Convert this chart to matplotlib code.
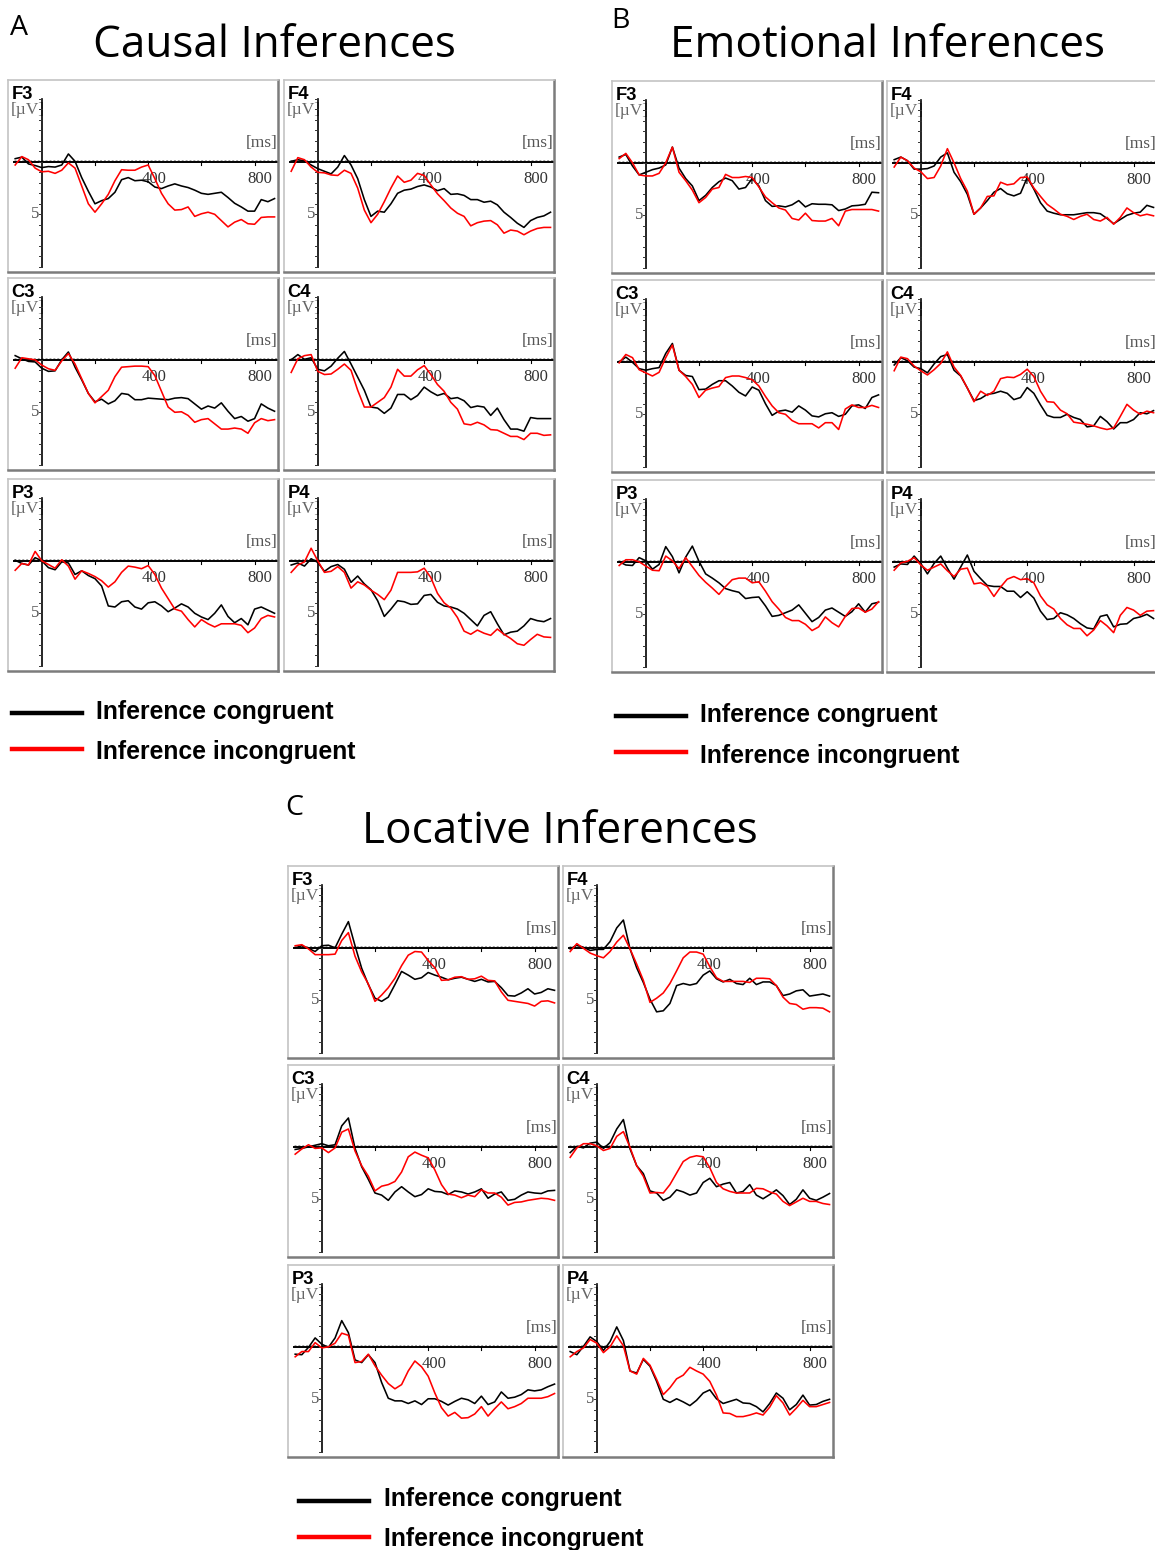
import matplotlib
matplotlib.use('Agg')
import matplotlib.pyplot as plt

# sample times (ms) shared by every waveform
TIME_MS = list(range(-100, 900, 25))

# ---- Causal inferences (uV) ----
causal_f3_con = [-0.3, -0.45, 0.2, 0.35, 0.55, 0.45, 0.5, 0.3, -0.75, -0.05,
                 1.5, 2.8, 4.0, 3.7, 3.5, 2.9, 1.7, 1.5, 1.8, 1.75,
                 1.9, 2.4, 2.55, 2.3, 2.1, 2.3, 2.45, 2.7, 3.0, 3.1,
                 3.0, 2.9, 3.4, 3.95, 4.3, 4.7, 4.7, 3.6, 3.8, 3.5]
causal_f3_inc = [0.3, -0.5, -0.2, 0.6, 0.95, 0.9, 1.1, 0.8, 0.1, 0.6,
                 2.3, 4.0, 4.8, 4.0, 3.1, 1.8, 0.75, 0.8, 0.8, 0.5,
                 0.3, 1.6, 3.0, 4.0, 4.6, 4.55, 4.3, 5.2, 4.95, 4.8,
                 5.0, 5.6, 6.2, 5.75, 5.5, 5.9, 5.95, 5.3, 5.25, 5.25]
causal_f4_con = [-0.05, -0.2, -0.1, 0.3, 0.65, 0.9, 1.15, 0.5, -0.6, 0.3,
                 1.6, 3.6, 5.2, 4.7, 4.8, 4.0, 3.0, 2.7, 2.6, 2.35,
                 2.2, 2.4, 2.75, 2.55, 3.1, 3.05, 3.2, 3.6, 3.6, 3.85,
                 3.75, 4.1, 4.8, 5.3, 5.85, 6.25, 5.6, 5.3, 5.15, 4.8]
causal_f4_inc = [0.9, -0.4, -0.2, 0.5, 1.0, 1.05, 1.25, 1.3, 0.8, 1.1,
                 2.5, 4.6, 5.8, 5.0, 3.8, 2.5, 1.35, 1.95, 1.75, 1.1,
                 1.3, 2.2, 3.05, 3.7, 4.4, 4.9, 5.2, 6.1, 5.8, 5.65,
                 5.6, 6.0, 6.8, 6.5, 6.6, 6.95, 6.6, 6.35, 6.25, 6.25]
causal_c3_con = [-0.4, -0.1, 0.15, 0.2, 0.8, 1.1, 1.05, 0.0, -0.75, 0.7,
                 1.9, 3.2, 4.0, 3.75, 4.2, 3.9, 3.2, 3.3, 3.8, 3.8,
                 3.65, 3.7, 3.75, 3.8, 3.65, 3.6, 3.7, 4.2, 4.7, 4.4,
                 4.6, 4.1, 4.9, 5.6, 5.4, 5.85, 5.6, 4.2, 4.6, 4.9]
causal_c3_inc = [0.8, -0.2, -0.1, 0.0, 0.5, 0.85, 1.0, 0.1, -0.6, 0.4,
                 1.8, 3.2, 4.1, 3.5, 2.9, 1.6, 0.7, 0.65, 0.6, 0.6,
                 0.65, 1.5, 3.0, 4.5, 5.0, 4.95, 5.3, 5.95, 5.7, 5.6,
                 6.1, 6.6, 6.6, 6.5, 6.6, 7.0, 6.0, 5.6, 5.8, 5.7]
causal_c4_con = [0.0, -0.5, -0.05, -0.2, 0.9, 1.05, 0.6, -0.15, -0.8, 0.4,
                 1.65, 2.9, 4.5, 4.6, 5.1, 4.6, 3.3, 3.3, 3.8, 3.4,
                 2.6, 3.05, 3.4, 3.2, 3.7, 3.6, 3.9, 4.55, 4.4, 4.5,
                 5.3, 4.6, 5.7, 6.6, 6.6, 6.8, 5.5, 5.6, 5.6, 5.6]
causal_c4_inc = [1.2, -0.1, -0.4, -0.5, 1.1, 1.4, 1.35, 0.9, 0.4, 1.0,
                 2.9, 4.5, 4.5, 4.05, 3.6, 2.6, 0.9, 1.55, 1.55, 0.95,
                 0.55, 1.4, 2.35, 3.0, 4.05, 4.7, 6.1, 6.2, 5.95, 6.2,
                 6.65, 6.7, 7.0, 7.3, 7.3, 7.6, 7.0, 7.0, 7.2, 7.15]
causal_p3_con = [-0.05, 0.25, 0.4, -0.3, 0.0, 0.65, 0.85, 0.1, 0.2, 1.3,
                 0.95, 1.4, 1.7, 2.4, 4.3, 4.4, 3.9, 3.8, 4.4, 4.6,
                 4.0, 3.9, 4.3, 4.85, 4.5, 4.1, 4.4, 5.0, 5.35, 5.6,
                 5.0, 4.2, 5.3, 5.9, 5.5, 6.1, 4.6, 4.4, 4.7, 5.0]
causal_p3_inc = [0.9, 0.25, 0.4, -0.9, 0.0, 0.35, 0.7, -0.1, 0.5, 1.75,
                 0.95, 1.2, 1.5, 1.9, 2.5, 2.0, 1.1, 0.5, 0.6, 0.75,
                 0.45, 1.3, 2.6, 3.6, 4.6, 4.8, 5.6, 6.3, 5.6, 6.0,
                 6.3, 6.0, 6.0, 6.0, 6.15, 6.85, 6.4, 5.5, 5.2, 5.35]
causal_p4_con = [0.4, 0.2, 0.5, -0.2, 0.15, 1.0, 0.55, 0.35, 0.8, 2.05,
                 1.45, 2.2, 2.75, 3.8, 5.3, 4.6, 3.8, 3.9, 4.15, 4.1,
                 3.3, 3.2, 3.95, 4.3, 4.4, 4.6, 5.0, 5.6, 6.2, 5.2,
                 4.85, 6.0, 7.05, 6.8, 6.7, 6.2, 5.5, 5.7, 5.8, 5.5]
causal_p4_inc = [1.1, 0.4, 0.1, -1.2, 0.0, 1.1, 1.0, 0.55, 1.1, 2.6,
                 2.0, 2.3, 2.8, 3.2, 3.7, 2.8, 1.1, 1.1, 1.1, 1.05,
                 0.7, 1.6, 3.1, 4.0, 4.5, 5.4, 6.7, 7.0, 6.6, 6.9,
                 7.1, 6.5, 7.0, 7.4, 7.9, 8.05, 7.5, 7.0, 7.25, 7.3]

# ---- Emotional inferences (uV) ----
emo_f3_con = [-0.55, -0.8, 0.3, 1.15, 0.9, 0.65, 0.5, 0.2, -1.5, 0.5,
              1.5, 2.2, 3.6, 3.1, 2.35, 1.8, 1.45, 1.7, 2.5, 2.35,
              1.5, 2.2, 3.6, 4.15, 4.1, 4.2, 4.0, 3.6, 4.2, 3.9,
              3.95, 3.95, 4.0, 4.55, 4.4, 4.1, 4.05, 3.95, 2.8, 2.85]
emo_f3_inc = [-0.4, -0.9, 0.0, 1.15, 1.25, 1.25, 1.0, 0.0, -1.5, 0.9,
              1.7, 2.6, 3.8, 3.3, 2.5, 2.35, 1.1, 1.4, 1.4, 1.3,
              1.4, 2.3, 3.25, 3.8, 4.3, 4.5, 5.3, 5.45, 4.8, 5.5,
              5.55, 5.55, 5.3, 6.0, 4.6, 4.45, 4.45, 4.45, 4.45, 4.6]
emo_f4_con = [-0.3, -0.55, -0.2, 0.6, 0.6, 0.55, 0.3, -0.55, -0.95, 0.9,
              1.8, 3.0, 4.9, 4.3, 3.6, 2.8, 2.45, 2.95, 3.15, 2.9,
              1.4, 2.5, 3.8, 4.6, 4.8, 4.95, 4.95, 4.95, 4.85, 4.75,
              4.75, 4.85, 5.3, 5.8, 5.4, 5.0, 4.8, 4.7, 4.05, 4.25]
emo_f4_inc = [0.4, -0.55, -0.2, 0.5, 0.85, 1.5, 1.4, 0.3, -1.35, 0.0,
              1.5, 2.7, 4.9, 4.3, 3.2, 3.15, 1.85, 2.1, 2.0, 1.4,
              1.35, 2.4, 3.2, 3.95, 4.4, 4.9, 5.1, 5.4, 5.1, 4.9,
              5.4, 5.55, 5.2, 5.85, 5.2, 4.3, 4.75, 5.05, 4.9, 5.05]
emo_c3_con = [0.0, -0.45, 0.05, 0.65, 0.8, 0.65, 0.55, -0.8, -1.75, 0.8,
              1.3, 1.4, 2.65, 2.6, 2.15, 1.8, 1.8, 2.3, 2.9, 3.25,
              2.4, 2.7, 4.0, 5.1, 4.7, 4.6, 4.8, 4.2, 4.6, 5.15,
              5.25, 4.95, 4.85, 5.2, 5.0, 4.2, 4.1, 4.45, 3.4, 3.15]
emo_c3_inc = [0.1, -0.7, -0.4, 0.75, 1.05, 1.35, 1.0, -0.4, -1.6, 0.8,
              1.4, 2.15, 3.4, 2.7, 2.5, 2.35, 1.5, 1.35, 1.35, 1.5,
              1.7, 2.3, 3.3, 4.2, 4.85, 5.0, 5.6, 5.9, 5.9, 5.9,
              6.3, 5.8, 5.8, 6.45, 4.5, 4.1, 4.35, 4.35, 4.15, 4.35]
emo_c4_con = [0.3, -0.4, -0.1, 0.5, 0.65, 1.05, 0.2, -0.5, -0.7, 0.8,
              1.35, 2.5, 3.7, 3.5, 3.1, 3.0, 2.8, 3.0, 3.6, 3.4,
              2.45, 3.0, 4.1, 5.1, 5.3, 5.3, 5.0, 5.3, 5.5, 6.2,
              6.1, 5.2, 5.7, 6.4, 5.8, 5.8, 5.5, 4.85, 4.95, 4.65]
emo_c4_inc = [0.85, -0.45, -0.3, 0.4, 0.85, 1.25, 0.75, 0.15, -0.95, 0.5,
              1.3, 2.5, 3.8, 2.8, 3.2, 2.8, 1.6, 1.45, 1.5, 1.2,
              0.7, 1.4, 2.8, 3.8, 3.85, 4.6, 4.95, 5.75, 5.85, 5.95,
              6.1, 6.3, 6.45, 6.3, 5.2, 4.05, 4.6, 5.0, 4.7, 4.85]
emo_p3_con = [0.0, 0.3, 0.35, -0.4, -0.1, 0.7, 0.25, -1.45, -0.5, 1.05,
              -0.45, -1.5, -0.05, 1.15, 1.55, 2.0, 2.55, 2.75, 2.9, 3.5,
              3.4, 3.35, 4.2, 5.2, 5.1, 4.85, 4.6, 4.1, 4.9, 5.7,
              5.3, 4.6, 4.4, 4.8, 5.2, 4.75, 4.0, 4.8, 4.0, 3.85]
emo_p3_inc = [0.35, -0.2, -0.2, 0.0, 0.4, 0.8, 0.85, -0.55, -0.1, 0.65,
              -0.4, 0.45, 1.3, 1.95, 2.5, 3.1, 2.35, 1.7, 1.55, 1.55,
              2.0, 1.9, 2.8, 3.8, 4.5, 5.3, 5.6, 5.6, 5.95, 6.55,
              6.2, 5.25, 5.8, 6.2, 5.2, 4.45, 4.4, 4.8, 4.5, 3.8]
emo_p4_con = [0.5, 0.2, 0.25, -0.55, 0.15, 1.15, 0.15, -0.55, 0.6, 1.65,
              0.5, -0.65, 0.9, 1.6, 2.25, 2.35, 2.35, 2.8, 2.8, 3.4,
              2.85, 3.45, 4.7, 5.5, 5.4, 4.85, 5.05, 5.4, 5.9, 6.3,
              6.4, 5.2, 5.05, 6.2, 5.95, 5.9, 5.4, 5.25, 5.0, 5.4]
emo_p4_inc = [0.8, 0.1, -0.05, -0.4, 0.3, 0.8, 0.5, 0.2, 0.85, 1.4,
              0.7, 0.6, 2.1, 2.0, 2.35, 3.3, 2.4, 1.65, 1.4, 1.7,
              1.6, 2.0, 3.25, 4.1, 4.5, 5.4, 6.0, 6.35, 6.35, 7.05,
              6.5, 5.6, 6.1, 6.75, 5.1, 4.35, 4.6, 5.1, 4.7, 4.65]

# ---- Locative inferences (uV) ----
loc_f3_con = [0.0, -0.2, 0.05, 0.35, -0.2, -0.25, 0.0, -1.3, -2.5, -0.2,
              1.95, 3.5, 4.8, 5.1, 4.7, 3.5, 2.25, 2.6, 3.0, 2.85,
              2.35, 2.6, 2.8, 3.05, 2.9, 2.8, 3.0, 3.2, 3.0, 3.25,
              3.2, 3.8, 4.55, 4.6, 4.3, 3.9, 4.4, 4.25, 3.9, 4.05]
loc_f3_inc = [-0.2, -0.3, 0.1, 0.65, 0.65, 0.65, 0.6, -0.7, -1.45, 0.8,
              2.3, 3.45, 5.1, 4.5, 3.8, 2.9, 1.7, 0.7, 0.35, 0.4,
              1.2, 1.9, 3.1, 3.05, 2.8, 2.75, 3.0, 2.95, 2.7, 3.1,
              3.15, 4.2, 5.0, 5.1, 5.2, 5.3, 5.55, 5.1, 5.05, 5.25]
loc_f4_con = [0.1, -0.25, -0.05, 0.25, 0.15, 0.15, -0.6, -1.9, -2.65, 0.1,
              1.9, 3.3, 4.9, 6.1, 6.0, 5.3, 3.6, 3.4, 3.55, 3.4,
              2.6, 2.2, 2.95, 3.25, 3.0, 3.4, 3.5, 2.9, 3.5, 3.25,
              3.25, 3.6, 4.55, 4.4, 4.1, 4.0, 4.6, 4.5, 4.4, 4.6]
loc_f4_inc = [0.35, -0.4, 0.05, 0.5, 0.75, 0.95, 0.35, -0.55, -1.2, 0.1,
              1.55, 3.1, 5.2, 4.8, 4.3, 3.4, 2.2, 0.95, 0.4, 0.4,
              0.6, 1.8, 2.85, 3.2, 3.2, 3.2, 3.2, 3.3, 2.9, 2.9,
              2.95, 3.6, 4.7, 5.3, 5.4, 5.85, 5.7, 5.7, 5.75, 6.1]
loc_c3_con = [0.25, 0.15, 0.0, -0.15, -0.3, -0.1, -0.2, -2.0, -2.75, 0.15,
              1.9, 3.1, 4.4, 4.6, 5.1, 4.3, 3.8, 4.3, 4.75, 4.55,
              4.0, 4.25, 4.3, 4.55, 4.2, 4.3, 4.5, 4.3, 4.0, 4.9,
              4.5, 4.3, 5.1, 5.0, 4.6, 4.3, 4.4, 4.45, 4.2, 4.15]
loc_c3_inc = [0.7, 0.2, -0.2, 0.15, 0.1, 0.55, 0.1, -1.4, -1.7, 0.4,
              1.8, 2.8, 4.2, 3.75, 3.6, 3.3, 2.4, 0.95, 0.5, 0.8,
              1.05, 2.2, 3.6, 4.5, 4.6, 4.85, 4.6, 4.75, 4.1, 4.4,
              4.4, 4.8, 5.55, 5.3, 5.25, 5.1, 5.0, 4.9, 4.95, 5.1]
loc_c4_con = [0.55, -0.05, 0.1, -0.35, -0.45, 0.15, -0.4, -1.7, -2.6, 0.2,
              1.8, 2.55, 4.2, 4.4, 5.1, 4.8, 4.1, 4.3, 4.6, 4.4,
              3.4, 3.0, 3.8, 3.55, 3.4, 4.4, 4.25, 3.6, 4.6, 4.95,
              4.55, 4.1, 4.65, 5.5, 5.0, 4.1, 4.9, 5.1, 4.8, 4.45]
loc_c4_inc = [1.0, 0.1, -0.3, -0.3, -0.1, 0.35, 0.15, -1.0, -1.45, 0.05,
              1.8, 2.8, 4.4, 4.35, 4.4, 3.6, 2.5, 1.4, 1.0, 0.85,
              0.95, 2.0, 3.4, 4.0, 4.25, 4.4, 4.4, 4.4, 3.95, 4.0,
              4.3, 4.5, 5.2, 5.6, 5.25, 4.9, 5.2, 5.2, 5.4, 5.5]
loc_p3_con = [0.7, 0.75, 0.05, -0.85, -0.25, 0.05, -0.85, -2.5, -1.35, 1.25,
              1.5, 0.75, 1.5, 3.4, 4.9, 5.15, 5.15, 5.4, 5.15, 5.5,
              4.95, 4.95, 5.2, 5.55, 5.2, 4.9, 5.05, 5.4, 4.7, 5.5,
              5.25, 4.3, 4.9, 4.8, 4.55, 4.1, 4.2, 4.1, 3.8, 3.55]
loc_p3_inc = [0.95, 0.45, 0.45, -0.4, 0.1, 0.0, -0.35, -1.3, -1.1, 1.5,
              1.4, 0.7, 1.8, 2.7, 3.5, 4.0, 3.6, 2.3, 1.35, 1.9,
              2.8, 4.4, 5.8, 6.6, 6.25, 6.8, 6.75, 6.4, 5.7, 6.6,
              5.9, 5.25, 5.9, 5.7, 5.4, 4.9, 4.9, 4.9, 4.75, 4.45]
loc_p4_con = [0.45, 0.75, -0.05, -0.95, -0.5, 0.35, -0.5, -1.9, -0.6, 2.3,
              2.5, 1.2, 1.85, 3.3, 5.0, 5.3, 4.95, 5.25, 5.6, 5.1,
              4.4, 4.1, 4.95, 5.4, 5.2, 5.0, 5.35, 5.4, 5.7, 6.2,
              5.4, 4.4, 4.9, 6.0, 5.5, 4.6, 5.55, 5.5, 5.2, 5.0]
loc_p4_inc = [0.95, 0.45, 0.1, -0.7, -0.35, 0.55, 0.0, -1.05, -0.1, 2.3,
              2.6, 1.1, 1.75, 3.1, 4.55, 3.9, 3.05, 2.7, 1.95, 2.3,
              2.6, 3.3, 4.6, 6.3, 6.35, 6.65, 6.65, 6.5, 6.3, 6.5,
              5.75, 4.65, 5.35, 6.5, 5.85, 5.1, 5.7, 5.7, 5.5, 5.3]

CHANNELS = ['F3', 'F4', 'C3', 'C4', 'P3', 'P4']
LEGEND_LABELS = ['Inference congruent', 'Inference incongruent']

FIG_W, FIG_H = 1155, 1550
BOX_W, BOX_H = 270, 192
XLIM = (-127, 888)
YLIM = (10.5, -7.8)   # negative up

SERIF = 'Liberation Serif'
SANS = 'Liberation Sans'
TITLE_FONT = 'Open Sans'


def add_panel(fig, left, top, name, con, inc):
    ax = fig.add_axes([left / FIG_W, 1 - (top + BOX_H) / FIG_H, BOX_W / FIG_W, BOX_H / FIG_H])
    ax.set_xlim(*XLIM)
    ax.set_ylim(*YLIM)
    ax.set_xticks([])
    ax.set_yticks([])
    for side in ('top', 'left'):
        ax.spines[side].set_color('#c4c4c4')
        ax.spines[side].set_linewidth(1.2)
    for side in ('right', 'bottom'):
        ax.spines[side].set_color('#7c7c7c')
        ax.spines[side].set_linewidth(1.8)

    # axes drawn inside the box
    ax.plot([-104, XLIM[1]], [-0.13, -0.13], color='#a0a0a0', lw=0.7, dashes=(2, 2), zorder=1)
    ax.plot([-104, XLIM[1]], [0, 0], color='black', lw=1.4, zorder=2)
    for t in (200, 400, 600, 800):
        ax.plot([t, t], [0, 0.3], color='black', lw=0.8, zorder=2)
    ax.plot([0, 0], [-6, 10], color='black', lw=1.2, zorder=2)
    for v in range(-6, 11):
        ax.plot([-9, 0], [v, v], color='#333333', lw=0.7, zorder=2)

    for t in (400, 800):
        ax.text(t + 21, 1.6, str(t), fontsize=12, family=SERIF, color='#333333',
                ha='center', va='center', zorder=1)
    ax.text(-11, 5, '5', fontsize=12, family=SERIF, color='#555555', ha='right', va='center', zorder=1)
    ax.text(886, -1.8, '[ms]', fontsize=12.5, family=SERIF, color='#555555', ha='right', va='center', zorder=1)
    ax.text(-115, -4.95, '[µV]', fontsize=12.5, family=SERIF, color='#666666', ha='left', va='center', zorder=1)
    ax.text(3.5 / BOX_W, 1 - 19 / BOX_H, name, transform=ax.transAxes, fontsize=13.2,
            family=SANS, fontweight='bold', ha='left', va='baseline')

    ax.plot(TIME_MS, con, color='black', lw=1.15, zorder=3)
    ax.plot(TIME_MS, inc, color='#ff0000', lw=1.15, zorder=4)
    return ax


def add_legend(fig, x_line, x_text, y_lines, y_text):
    for y, c in zip(y_lines, ['black', '#ff0000']):
        fig.add_artist(plt.Line2D([x_line / FIG_W, (x_line + 70) / FIG_W], [1 - y / FIG_H, 1 - y / FIG_H],
                                  color=c, lw=3.2))
    for y, label in zip(y_text, LEGEND_LABELS):
        fig.text(x_text / FIG_W, 1 - y / FIG_H, label, fontsize=17.8, family=SANS,
                 fontweight='bold', ha='left', va='baseline')


fig = plt.figure(figsize=(FIG_W / 100, FIG_H / 100), dpi=100)

groups = [
    # letter, title, letter pos, title pos, column lefts, row tops, waveforms
    ('A', 'Causal Inferences', (10, 35), (93, 57), (8, 284), (80, 278, 479),
     [causal_f3_con, causal_f3_inc, causal_f4_con, causal_f4_inc,
      causal_c3_con, causal_c3_inc, causal_c4_con, causal_c4_inc,
      causal_p3_con, causal_p3_inc, causal_p4_con, causal_p4_inc]),
    ('B', 'Emotional Inferences', (611, 28), (670, 57), (612, 887), (81, 280, 480),
     [emo_f3_con, emo_f3_inc, emo_f4_con, emo_f4_inc,
      emo_c3_con, emo_c3_inc, emo_c4_con, emo_c4_inc,
      emo_p3_con, emo_p3_inc, emo_p4_con, emo_p4_inc]),
    ('C', 'Locative Inferences', (285, 815), (362, 843), (288, 563), (866, 1065, 1265),
     [loc_f3_con, loc_f3_inc, loc_f4_con, loc_f4_inc,
      loc_c3_con, loc_c3_inc, loc_c4_con, loc_c4_inc,
      loc_p3_con, loc_p3_inc, loc_p4_con, loc_p4_inc]),
]

for letter, title, lpos, tpos, cols, rows, waves in groups:
    fig.text(lpos[0] / FIG_W, 1 - lpos[1] / FIG_H, letter, fontsize=20.5, family=TITLE_FONT,
             ha='left', va='baseline')
    fig.text(tpos[0] / FIG_W, 1 - tpos[1] / FIG_H, title, fontsize=31.8, family=TITLE_FONT,
             ha='left', va='baseline')
    for i, name in enumerate(CHANNELS):
        add_panel(fig, cols[i % 2], rows[i // 2], name, waves[2 * i], waves[2 * i + 1])

add_legend(fig, 12, 96, (713, 748.5), (719.5, 758.5))
add_legend(fig, 616, 700, (716, 752), (722.5, 762.5))
add_legend(fig, 299, 384, (1501, 1536.5), (1506, 1546))

fig.savefig('out.png', dpi=100)
plt.close(fig)
